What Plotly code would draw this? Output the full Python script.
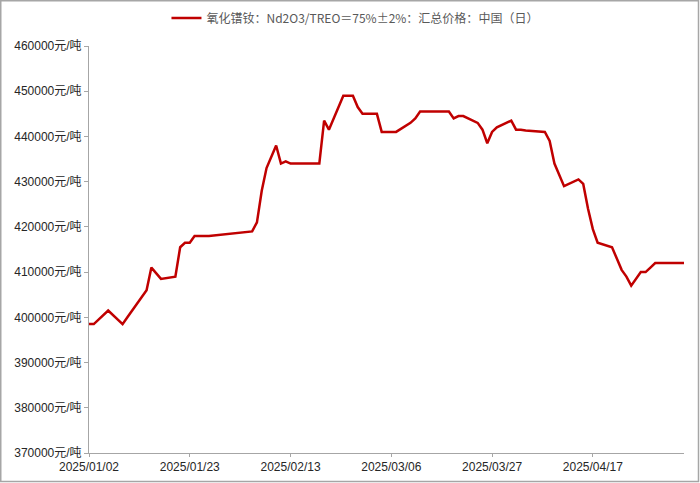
import plotly.graph_objects as go

dates = [
    "2025-01-02", "2025-01-03", "2025-01-06", "2025-01-07", "2025-01-08", "2025-01-09",
    "2025-01-10", "2025-01-13", "2025-01-14", "2025-01-15", "2025-01-16", "2025-01-17",
    "2025-01-20", "2025-01-21", "2025-01-22", "2025-01-23", "2025-01-24", "2025-01-26",
    "2025-01-27", "2025-02-05", "2025-02-06", "2025-02-07", "2025-02-08", "2025-02-10",
    "2025-02-11", "2025-02-12", "2025-02-13", "2025-02-14", "2025-02-17", "2025-02-18",
    "2025-02-19", "2025-02-20", "2025-02-21", "2025-02-24", "2025-02-25", "2025-02-26",
    "2025-02-27", "2025-02-28", "2025-03-03", "2025-03-04", "2025-03-05", "2025-03-06",
    "2025-03-07", "2025-03-10", "2025-03-11", "2025-03-12", "2025-03-13", "2025-03-14",
    "2025-03-17", "2025-03-18", "2025-03-19", "2025-03-20", "2025-03-21", "2025-03-24",
    "2025-03-25", "2025-03-26", "2025-03-27", "2025-03-28", "2025-03-31", "2025-04-01",
    "2025-04-02", "2025-04-03", "2025-04-07", "2025-04-08", "2025-04-09", "2025-04-10",
    "2025-04-11", "2025-04-14", "2025-04-15", "2025-04-16", "2025-04-17", "2025-04-18",
    "2025-04-21", "2025-04-22", "2025-04-23", "2025-04-24", "2025-04-25", "2025-04-27",
    "2025-04-28", "2025-04-29", "2025-04-30", "2025-05-06",
]
prices = [
    398500, 398500, 401500, 400500, 399500, 398500,
    400000, 404500, 406000, 411000, 409800, 408500,
    409000, 415500, 416500, 416500, 418000, 418000,
    418000, 419000, 421000, 428000, 433000, 438000,
    434000, 434500, 434000, 434000, 434000, 434000,
    434000, 443500, 441500, 449000, 449000, 449000,
    446500, 445000, 445000, 441000, 441000, 441000,
    441000, 443000, 444000, 445500, 445500, 445500,
    445500, 445500, 444000, 444500, 444500, 443000,
    441500, 438500, 441000, 442000, 443500, 441500,
    441500, 441300, 441000, 439000, 434000, 431500,
    429000, 430500, 429500, 424000, 419500, 416500,
    415500, 413000, 410500, 409000, 407000, 410000,
    410000, 411000, 412000, 412000,
]
series_name = "氧化镨钕：Nd2O3/TREO＝75%±2%：汇总价格：中国（日）"

y_ticks = list(range(370000, 460001, 10000))
y_tick_text = [f"{v}元/吨" for v in y_ticks]
x_ticks = ["2025-01-02", "2025-01-23", "2025-02-13", "2025-03-06", "2025-03-27", "2025-04-17"]
x_tick_text = ["2025/01/02", "2025/01/23", "2025/02/13", "2025/03/06", "2025/03/27", "2025/04/17"]

W, H = 700, 483
ML, MR, MT, MB = 89, 16, 46, 30
PW, PH = W - ML - MR, H - MT - MB

fig = go.Figure()
fig.add_trace(go.Scatter(
    x=dates, y=prices, mode="lines", name=series_name,
    line=dict(color="#C00000", width=2.5),
))

font_family = "Liberation Sans, Arial, Noto Sans CJK SC, sans-serif"

fig.update_layout(
    width=W, height=H,
    margin=dict(l=ML, r=MR, t=MT, b=MB, autoexpand=False),
    paper_bgcolor="white", plot_bgcolor="white",
    font=dict(family=font_family, size=12, color="#262626"),
    showlegend=True,
    legend=dict(
        orientation="h", x=0.447, xanchor="center", y=(H - MB - 18) / PH, yanchor="middle",
        font=dict(family="Noto Sans CJK SC, sans-serif", size=12, color="#595959"),
        bgcolor="rgba(0,0,0,0)",
    ),
    xaxis=dict(
        type="date", range=["2025-01-02", "2025-05-06"],
        tickmode="array", tickvals=x_ticks, ticktext=x_tick_text,
        showgrid=False, zeroline=False,
        showline=True, linecolor="#a6a6a6", linewidth=1,
        ticks="outside", ticklen=3, tickcolor="#a6a6a6",
        tickfont=dict(size=12, color="#262626"),
    ),
    yaxis=dict(
        range=[370000, 460000],
        tickmode="array", tickvals=y_ticks, ticktext=y_tick_text,
        showgrid=False, zeroline=False,
        showline=True, linecolor="#a6a6a6", linewidth=1,
        ticks="outside", ticklen=4, tickcolor="#a6a6a6",
        tickfont=dict(size=12, color="#262626"),
    ),
    shapes=[dict(
        type="rect", xref="paper", yref="paper",
        x0=(0.75 - ML) / PW, x1=(698.5 - ML) / PW,
        y0=(H - MB - 481.5) / PH, y1=(H - MB - 0.75) / PH,
        line=dict(color="#a6a6a6", width=1.5), fillcolor="rgba(0,0,0,0)",
        layer="below",
    )],
)

fig.write_html(
    "out.html",
    config={"displayModeBar": False},
    post_script="document.body.style.margin='0';document.body.style.overflow='hidden';",
)
